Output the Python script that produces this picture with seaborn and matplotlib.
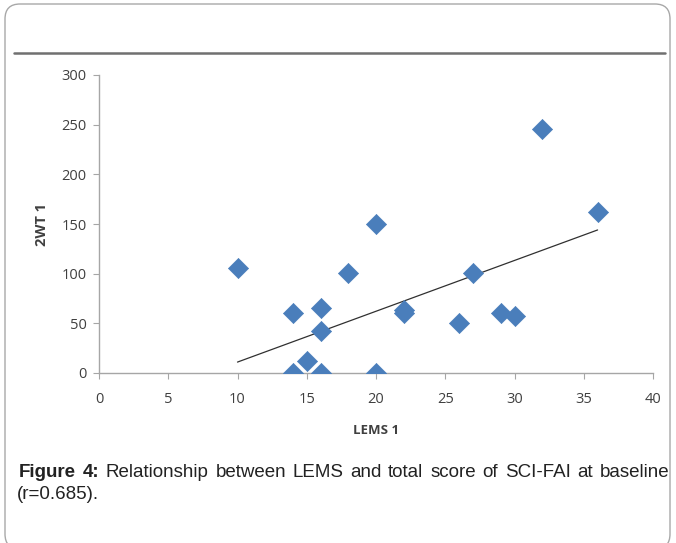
import numpy as np
import pandas as pd
import matplotlib
matplotlib.use("Agg")
import matplotlib.pyplot as plt
import seaborn as sns
from matplotlib.patches import FancyBboxPatch
from matplotlib.lines import Line2D

lems = [10, 14, 14, 15, 16, 16, 16, 18, 20, 20, 22, 22, 26, 27, 29, 30, 32, 36]
wt2 = [106, 60, 0, 12, 65, 42, 0, 101, 150, 0, 63, 60, 50, 101, 60, 57, 246, 162]
# linear trendline (end points)
trend_x = [10, 36]
trend_y = [11, 144]
xticks = [0, 5, 10, 15, 20, 25, 30, 35, 40]
yticks = [0, 50, 100, 150, 200, 250, 300]

df = pd.DataFrame({"LEMS 1": lems, "2WT 1": wt2})
tdf = pd.DataFrame({"x": trend_x, "y": trend_y})

sns.set_style("white")
plt.rcParams['font.family'] = ['Open Sans', 'DejaVu Sans']

fig = plt.figure(figsize=(6.76, 5.43), dpi=100)
W, H = 676, 543

# rounded frame (in inches)
frame = FancyBboxPatch((0.05, -0.06), 6.65, 5.45,
                       boxstyle="round,pad=0,rounding_size=0.15",
                       transform=fig.dpi_scale_trans, fill=False,
                       edgecolor="#a8a8a8", linewidth=1.0, clip_on=False)
fig.patches.append(frame)
# top separator line
fig.lines.append(Line2D([14 / W, 665 / W], [1 - 53 / H, 1 - 53 / H],
                        transform=fig.transFigure, color="#707070", linewidth=1.8))

ax = fig.add_axes([99 / W, 1 - 373 / H, (653 - 99) / W, (373 - 75) / H])
sns.lineplot(data=tdf, x="x", y="y", ax=ax, color="#303030", linewidth=0.9, zorder=2)
sns.scatterplot(data=df, x="LEMS 1", y="2WT 1", ax=ax, marker="D", s=105,
                color="#4a7ebb", edgecolor="#4a7ebb", linewidth=0.5, zorder=3)

ax.set_xlim(0, 40)
ax.set_ylim(0, 300)
ax.set_xticks(xticks)
ax.set_yticks(yticks)
for s in ["top", "right"]:
    ax.spines[s].set_visible(False)
for s in ["left", "bottom"]:
    ax.spines[s].set_color("#a6a6a6")
    ax.spines[s].set_linewidth(1.0)
ax.tick_params(axis="both", which="both", direction="out", length=4, width=0.8,
               color="#a6a6a6", labelsize=10.5, labelcolor="#404040",
               bottom=True, left=True)
ax.tick_params(axis="x", pad=10)
ax.tick_params(axis="y", pad=5)
ax.set_xlabel("LEMS 1", fontsize=9.5, fontweight="bold", color="#404040", labelpad=12)
ax.set_ylabel("2WT 1", fontsize=10.5, fontweight="bold", color="#404040", labelpad=9)

# justified caption
renderer = fig.canvas.get_renderer()
line1 = [("Figure", "bold"), ("4:", "bold"), ("Relationship", "normal"), ("between", "normal"),
         ("LEMS", "normal"), ("and", "normal"), ("total", "normal"), ("score", "normal"),
         ("of", "normal"), ("SCI-FAI", "normal"), ("at", "normal"), ("baseline", "normal")]
x_left, x_right = 19, 669
texts = []
widths = []
for word, wt in line1:
    t = fig.text(0, 1 - 477 / H, word, fontsize=13.5, fontweight=wt,
                 family="Liberation Sans", color="#222222", va="baseline")
    texts.append(t)
    widths.append(t.get_window_extent(renderer).width)
gap = (x_right - x_left - sum(widths)) / (len(widths) - 1)
xpos = x_left
for t, w in zip(texts, widths):
    t.set_x(xpos / W)
    xpos += w + gap
fig.text(17 / W, 1 - 499 / H, "(r=0.685).", fontsize=13.5,
         family="Liberation Sans", color="#222222", va="baseline")

fig.savefig("out.png", dpi=100)
